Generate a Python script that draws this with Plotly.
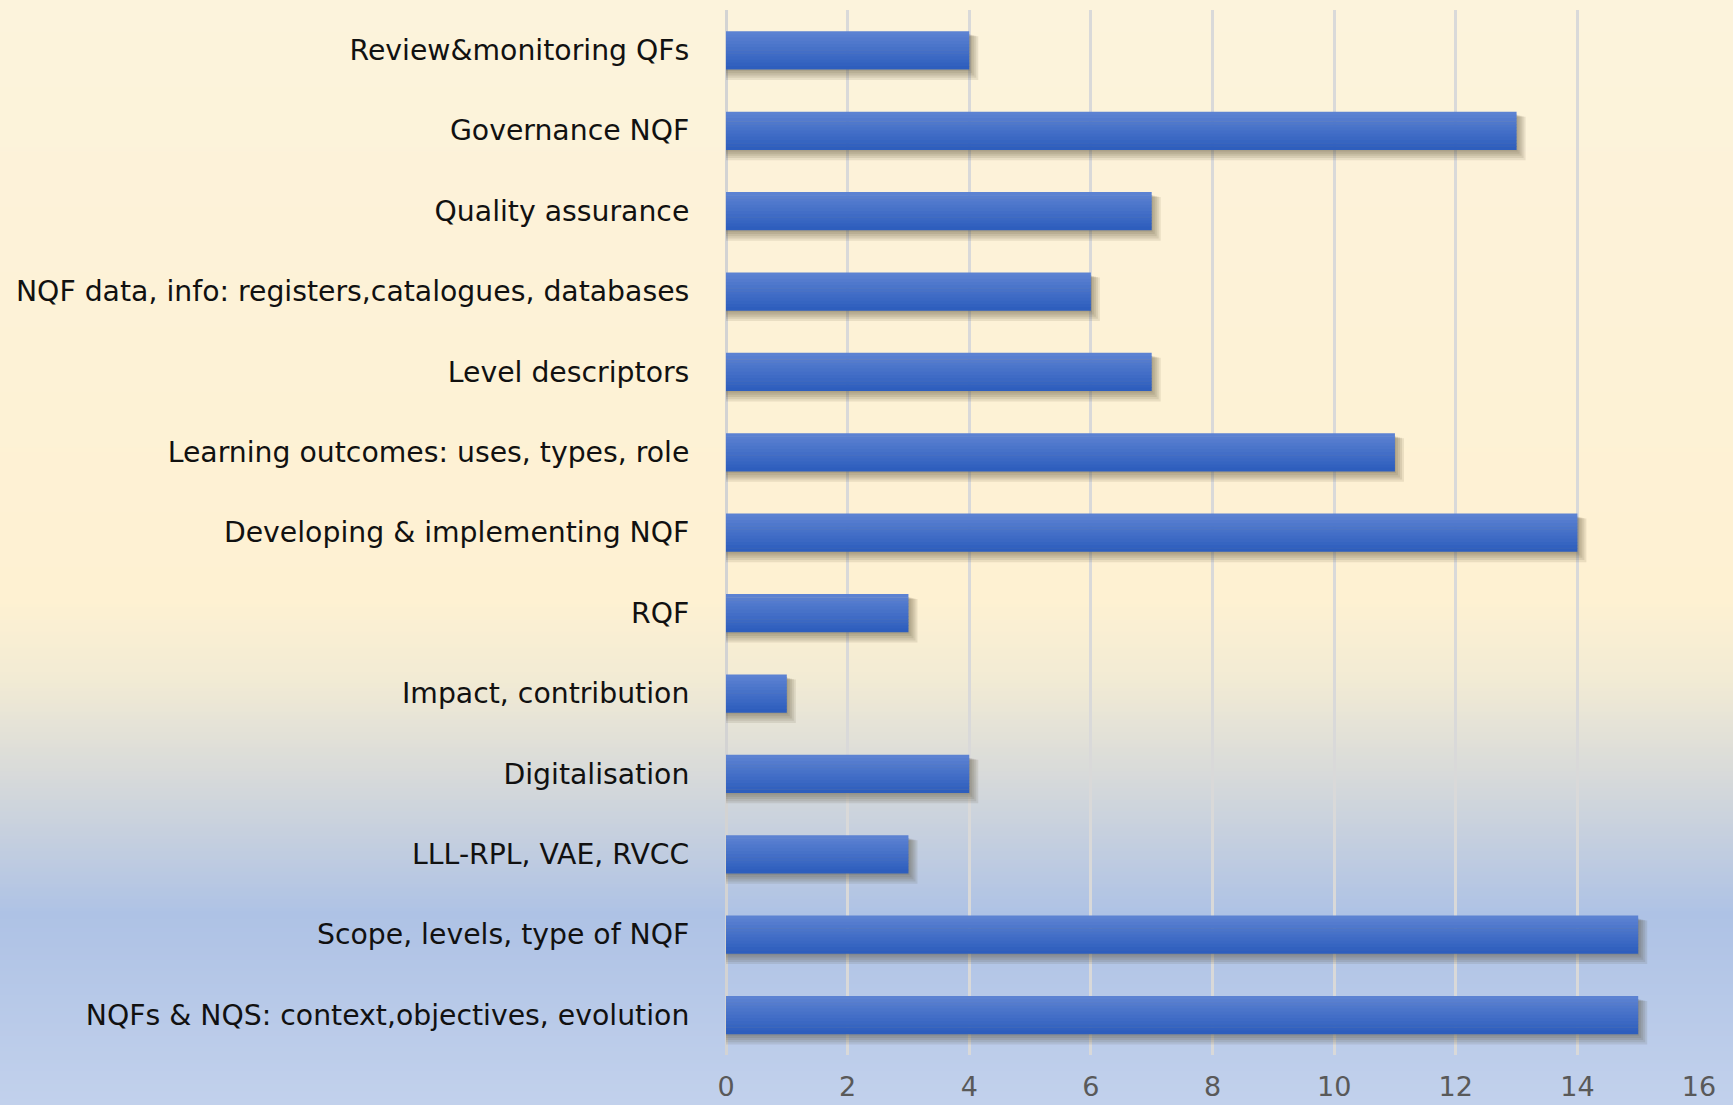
import plotly.graph_objects as go

categories = [
    "Review&monitoring QFs",
    "Governance NQF",
    "Quality assurance",
    "NQF data, info: registers,catalogues, databases",
    "Level descriptors",
    "Learning outcomes: uses, types, role",
    "Developing & implementing NQF",
    "RQF",
    "Impact, contribution",
    "Digitalisation",
    "LLL-RPL, VAE, RVCC",
    "Scope, levels, type of NQF",
    "NQFs & NQS: context,objectives, evolution",
]
values = [4, 13, 7, 6, 7, 11, 14, 3, 1, 4, 3, 15, 15]
x_ticks = [0, 2, 4, 6, 8, 10, 12, 14, 16]

W, H = 1733, 1105
L, R, T, B = 726, 34, 10, 50
PW, PH = W - L - R, H - T - B
XMAX = 16
PX_X = PW / XMAX                 # pixels per x unit
PX_Y = PH / len(categories)      # pixels per category

# background gradient stops (pixel y, rgb)
stops = [
    (0, (252, 243, 220)),
    (600, (254, 241, 210)),
    (680, (242, 235, 212)),
    (780, (214, 217, 218)),
    (915, (174, 194, 229)),
    (1105, (194, 209, 236)),
]

def col_at(py):
    for (y0, c0), (y1, c1) in zip(stops[:-1], stops[1:]):
        if y0 <= py <= y1:
            f = (py - y0) / (y1 - y0)
            c = [round(a + (b - a) * f) for a, b in zip(c0, c1)]
            return "rgb(%d,%d,%d)" % tuple(c)
    return "rgb(%d,%d,%d)" % stops[-1][1]

shapes = []
step = 4
for py in range(0, H, step):
    shapes.append(dict(
        type="rect", xref="paper", yref="paper", layer="below",
        x0=-L / PW - 0.01, x1=1 + R / PW + 0.01,
        y0=(H - B - py - step - 0.5) / PH, y1=(H - B - py + 0.5) / PH,
        fillcolor=col_at(py + step / 2), line=dict(width=0),
    ))

fig = go.Figure()

BW = 0.47
# blurred drop shadow (layers)
for k in range(5):
    top_px = 3 + k * 0.5
    bot_px = 2 + 2.2 * k
    right_px = 1 + 2.0 * k
    fig.add_trace(go.Bar(
        y=categories, x=[v + right_px / PX_X for v in values], orientation="h",
        marker=dict(color="rgba(70,60,40,0.11)", line=dict(width=0)),
        width=BW + (bot_px - top_px) / PX_Y, offset=-BW / 2 + top_px / PX_Y,
        hoverinfo="skip", showlegend=False,
    ))

# bar with vertical gradient (slices)
NS = 12
c_top = (92, 130, 210)
c_bot = (46, 94, 189)
for i in range(NS):
    f = i / (NS - 1)
    c = tuple(round(a + (b - a) * f) for a, b in zip(c_top, c_bot))
    fig.add_trace(go.Bar(
        y=categories, x=values, orientation="h",
        marker=dict(color="rgb(%d,%d,%d)" % c, line=dict(width=0)),
        width=BW / NS * 1.15, offset=-BW / 2 + i * BW / NS,
        showlegend=False, hoverinfo="x+y" if i == 0 else "skip",
    ))

fig.update_layout(
    width=W, height=H,
    margin=dict(l=L, r=R, t=T, b=B, pad=0, autoexpand=False),
    paper_bgcolor="#C3D2EB",
    plot_bgcolor="rgba(0,0,0,0)",
    barmode="overlay",
    shapes=shapes,
    font=dict(family="DejaVu Sans, sans-serif"),
)
fig.update_xaxes(
    range=[0, XMAX], tickvals=x_ticks, ticktext=[str(v) for v in x_ticks],
    showgrid=True, gridcolor="#D9D9D9", gridwidth=2.5,
    zeroline=True, zerolinecolor="#D3D3D3", zerolinewidth=2.5,
    showline=False, ticks="outside", ticklen=8, tickcolor="rgba(0,0,0,0)",
    tickfont=dict(size=27, color="#595959", family="DejaVu Sans, sans-serif"),
    fixedrange=True, automargin=False,
)
fig.update_yaxes(
    autorange="reversed", showgrid=False, zeroline=False, showline=False,
    ticks="outside", ticklen=30, tickcolor="rgba(0,0,0,0)",
    tickfont=dict(size=28.3, color="#111111", family="DejaVu Sans, sans-serif"),
    automargin=False, fixedrange=True,
)

fig.write_html("out.html", config={"displayModeBar": False},
               post_script="document.body.style.margin='0';")
